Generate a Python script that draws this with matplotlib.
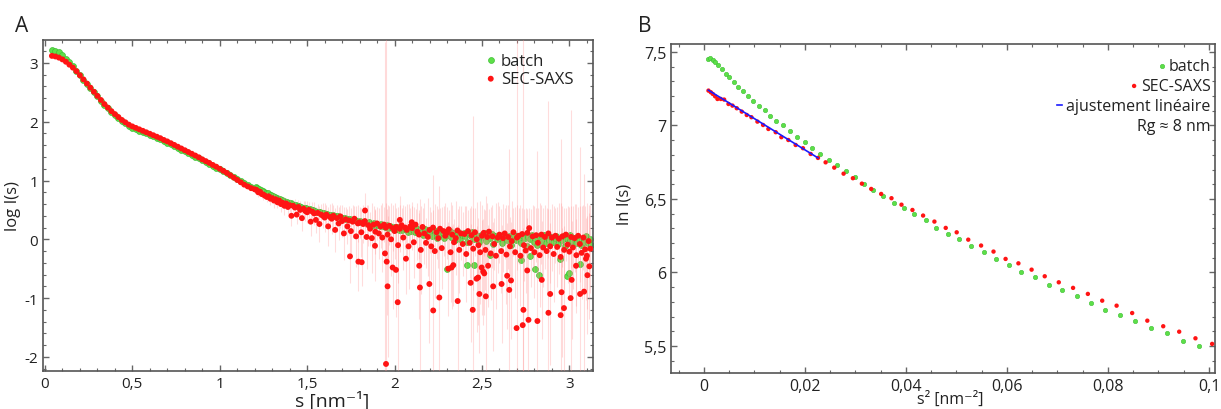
import numpy as np
import matplotlib
matplotlib.use('Agg')
import matplotlib.pyplot as plt
from matplotlib.ticker import MultipleLocator, FuncFormatter
from matplotlib.lines import Line2D

plt.rcParams['font.family'] = ['Open Sans', 'DejaVu Sans']

# ---------------- Panel A data : log I(s) vs s ----------------
s_smooth = np.arange(4, 120, 2) / 100.0          # 0.04 ... 1.18
batch_smooth = [3.22, 3.21, 3.18, 3.13, 3.07, 3.01, 2.94, 2.87, 2.79, 2.71,
                2.64, 2.57, 2.50, 2.43, 2.36, 2.29, 2.23, 2.17, 2.12, 2.07,
                2.02, 1.975, 1.935, 1.90, 1.875, 1.85, 1.825, 1.80, 1.775, 1.75,
                1.725, 1.70, 1.67, 1.645, 1.615, 1.585, 1.555, 1.525, 1.495, 1.465,
                1.435, 1.405, 1.375, 1.345, 1.315, 1.285, 1.25, 1.22, 1.19, 1.16,
                1.125, 1.09, 1.055, 1.02, 0.99, 0.955, 0.925, 0.895]
sec_smooth = [3.12, 3.11, 3.09, 3.06, 3.02, 2.97, 2.92, 2.86, 2.79, 2.72,
              2.65, 2.58, 2.51, 2.44, 2.37, 2.30, 2.24, 2.18, 2.13, 2.08,
              2.03, 1.99, 1.95, 1.92, 1.895, 1.87, 1.845, 1.82, 1.795, 1.77,
              1.745, 1.72, 1.69, 1.665, 1.635, 1.605, 1.575, 1.545, 1.515, 1.485,
              1.455, 1.425, 1.395, 1.36, 1.33, 1.30, 1.265, 1.235, 1.20, 1.165,
              1.13, 1.09, 1.05, 1.01, 0.97, 0.93, 0.90, 0.87]

s_noisy_sec = np.arange(120, 313) / 100.0            # 1.200 ... 3.120
s_noisy_batch = (np.arange(120, 313) + 0.5) / 100.0  # 1.205 ... 3.125
batch_noisy = [0.89, 0.87, 0.86, 0.84, 0.82, 0.81, 0.79, 0.78, 0.76, 0.75,
               0.73, 0.72, 0.71, 0.69, 0.68, 0.67, 0.66, 0.64, 0.63, 0.62,
               0.61, 0.60, 0.59, 0.58, 0.57, 0.56, 0.55, 0.54, 0.53, 0.53,
               0.52, 0.51, 0.50, 0.49, 0.48, 0.47, 0.47, 0.46, 0.45, 0.44,
               0.43, 0.43, 0.42, 0.41, 0.41, 0.40, 0.39, 0.39, 0.38, 0.37,
               0.36, 0.37, 0.35, 0.34, 0.35, 0.33, 0.32, 0.33, 0.31, 0.30,
               0.31, 0.29, 0.30, 0.28, 0.27, 0.29, 0.26, 0.25, 0.27, 0.24,
               0.25, 0.23, 0.26, 0.22, 0.21, 0.24, 0.20, 0.22, 0.19, 0.21,
               0.18, 0.21, 0.16, 0.19, 0.15, 0.20, 0.17, 0.13, 0.18, 0.14,
               0.16, 0.12, 0.19, 0.10, 0.15, 0.13, 0.08, 0.17, 0.11, 0.14,
               0.12, 0.06, 0.15, 0.10, 0.03, 0.13, 0.09, 0.11, 0.02, 0.12,
               0.08, 0.14, 0.04, 0.10, -0.02, 0.09, 0.12, 0.01, 0.07, 0.11,
               0.05, -0.04, 0.09, 0.06, 0.12, 0.00, 0.08, 0.03, -0.05, 0.07,
               0.04, 0.10, -0.03, 0.06, 0.02, 0.09, -0.08, 0.05, 0.01, 0.07,
               0.03, -0.06, 0.08, 0.02, -0.01, 0.06, -0.10, 0.04, 0.07, -0.02,
               0.05, 0.01, -0.07, 0.06, 0.03, -0.12, 0.04, 0.00, 0.08, -0.04,
               0.02, -0.09, 0.05, 0.01, -0.03, 0.07, -0.06, 0.03, -0.01, 0.04,
               -0.05, 0.02, 0.06, -0.08, 0.00, -0.02, 0.05, -0.11, 0.01, -0.04,
               0.07, -0.03, 0.02, -0.07, 0.04, -0.01, -0.10, 0.03, -0.05, 0.06,
               -0.06, 0.01, -0.09]
sec_noisy = [0.85, 0.84, 0.80, 0.81, 0.77, 0.76, 0.74, 0.72, 0.73, 0.69,
             0.70, 0.66, 0.68, 0.63, 0.66, 0.60, 0.62, 0.57, 0.61, 0.55,
             0.58, 0.40, 0.57, 0.54, 0.42, 0.55, 0.50, 0.36, 0.52, 0.48,
             0.46, 0.50, 0.30, 0.47, 0.44, 0.33, 0.45, 0.26, 0.42, 0.40,
             0.37, 0.42, 0.22, 0.38, 0.35, 0.40, 0.16, 0.36, 0.27, 0.39,
             0.31, 0.10, 0.34, 0.22, 0.32, 0.14, 0.30, 0.35, 0.05, 0.27,
             0.29, 0.12, 0.26, 0.31, 0.04, 0.24, 0.18, 0.02, 0.25, 0.13,
             0.27, 0.10, 0.22, 0.03, 0.25, 0.20, 0.08, 0.23, 0.00, 0.19,
             0.14, 0.21, -0.10, 0.18, 0.24, 0.03, 0.20, 0.16, -0.12, 0.22,
             0.19, -0.05, 0.25, 0.13, 0.08, -0.18, 0.21, 0.10, -0.06, 0.04,
             0.16, -0.12, 0.20, -0.20, 0.12, 0.02, 0.18, -0.15, 0.14, 0.06,
             0.11, 0.17, -0.22, 0.08, -0.05, 0.02, 0.15, -0.18, 0.10, -0.08,
             0.09, -0.25, 0.14, -0.06, 0.07, -0.16, 0.12, 0.00, -0.10, -0.22,
             0.06, 0.11, -0.18, 0.04, 0.13, -0.24, 0.05, -0.08, -0.28, 0.03,
             0.08, -0.20, 0.02, 0.10, -0.26, 0.04, -0.12, -0.03, 0.12, -0.22,
             0.03, 0.06, -0.28, 0.09, -0.10, -0.19, 0.11, 0.19, -0.15, 0.05,
             -0.22, 0.07, -0.06, -0.27, 0.08, -0.14, 0.04, -0.20, 0.10, -0.12,
             0.03, -0.25, 0.06, -0.13, 0.01, -0.30, 0.05, -0.18, 0.08, -0.09,
             -0.21, 0.04, -0.14, 0.02, -0.27, 0.06, -0.08, -0.23, 0.03, -0.17,
             -0.28, -0.03, -0.16]
sec_noisy_err = [0.06, 0.05, 0.08, 0.06, 0.07, 0.09, 0.06, 0.08, 0.07, 0.10,
                 0.08, 0.12, 0.07, 0.10, 0.09, 0.13, 0.08, 0.15, 0.10, 0.12,
                 0.11, 0.18, 0.10, 0.14, 0.16, 0.12, 0.15, 0.22, 0.13, 0.17,
                 0.19, 0.14, 0.25, 0.16, 0.20, 0.22, 0.15, 0.30, 0.18, 0.21,
                 0.24, 0.17, 0.33, 0.22, 0.26, 0.19, 0.38, 0.23, 0.28, 0.20,
                 0.27, 0.45, 0.21, 0.30, 0.25, 0.40, 0.28, 0.22, 0.52, 0.31,
                 0.26, 0.42, 0.33, 0.24, 0.55, 0.35, 0.29, 0.60, 0.31, 0.38,
                 0.28, 0.44, 0.36, 0.58, 0.30, 0.41, 0.50, 0.33, 0.62, 0.39,
                 0.47, 0.32, 0.65, 0.40, 0.29, 0.55, 0.36, 0.44, 0.72, 0.31,
                 0.38, 0.60, 0.27, 0.48, 0.41, 0.75, 0.33, 0.52, 0.43, 0.66,
                 0.39, 0.58, 0.30, 0.80, 0.45, 0.50, 0.35, 0.70, 0.42, 0.56,
                 0.44, 0.33, 0.85, 0.51, 0.40, 0.63, 0.37, 0.74, 0.46, 0.55,
                 0.48, 0.82, 0.36, 0.59, 0.50, 0.70, 0.41, 0.64, 0.47, 0.88,
                 0.52, 0.40, 0.68, 0.57, 0.38, 0.79, 0.53, 0.45, 0.90, 0.60,
                 0.49, 0.72, 0.58, 0.43, 0.84, 0.55, 0.50, 0.69, 0.41, 0.77,
                 0.56, 0.48, 0.86, 0.44, 0.61, 0.73, 0.40, 0.35, 0.66, 0.54,
                 0.78, 0.46, 0.59, 0.88, 0.50, 0.67, 0.55, 0.74, 0.42, 0.63,
                 0.57, 0.81, 0.47, 0.68, 0.60, 0.92, 0.52, 0.71, 0.45, 0.65,
                 0.76, 0.53, 0.70, 0.58, 0.87, 0.49, 0.64, 0.79, 0.56, 0.73,
                 0.90, 0.62, 0.75]

batch_out_s = [2.300, 2.413, 2.453, 2.544, 2.725, 2.774, 2.803, 2.825, 2.946, 2.984, 2.995, 3.058]
batch_out_y = [-0.50, -0.43, -0.44, -0.26, -0.36, -0.29, -0.50, -0.61, -0.34, -0.62, -0.58, -0.42]

sec_out_s = [1.745, 1.793, 1.812, 1.831, 1.888, 1.945, 1.955, 1.960, 1.951, 1.989,
             2.008, 2.018, 2.030, 2.065, 2.098, 2.141, 2.145, 2.199, 2.221, 2.256,
             2.307, 2.326, 2.336, 2.361, 2.435, 2.447, 2.469, 2.478, 2.485, 2.498,
             2.507, 2.513, 2.522, 2.535, 2.564, 2.612, 2.644, 2.656, 2.666, 2.698,
             2.733, 2.737, 2.766, 2.759, 2.817, 2.842, 2.890, 2.880, 2.950, 2.955,
             2.969, 3.013, 3.007, 3.038, 3.061, 3.084, 3.095, 3.103, 3.114]
sec_out_y = [-0.29, -0.38, -0.39, 0.49, -0.11, -0.24, -0.38, -0.80, -2.12, -0.48,
             -0.52, -1.07, 0.33, -0.33, 0.29, -0.45, -0.82, -0.76, -1.21, -0.99,
             -0.50, -0.48, -0.44, -1.05, -0.74, -1.20, -0.67, -0.65, -0.93, -0.48,
             -0.55, -0.58, -0.97, -0.45, -0.80, -0.76, -0.62, -0.86, -0.70, -1.51,
             -1.46, -1.20, -1.37, -0.53, -1.39, -0.69, -0.93, -1.25, -1.29, -0.90,
             -1.17, -0.69, -1.00, -0.45, -0.93, -0.89, -0.33, -0.61, -0.46]
sec_out_err = [0.45, 0.5, 0.4, 0.3, 0.6, 3.6, 0.9, 1.2, 5.6, 0.7,
               0.8, 1.3, 0.4, 0.6, 0.35, 0.9, 1.5, 1.0, 2.3, 1.9,
               0.8, 0.7, 0.7, 1.3, 1.0, 3.3, 0.9, 0.8, 1.0, 0.8,
               0.9, 0.7, 1.7, 0.7, 1.1, 1.0, 0.9, 2.4, 1.0, 5.0,
               5.0, 1.4, 1.5, 0.9, 2.9, 1.0, 1.2, 3.6, 3.0, 1.1,
               1.4, 1.0, 3.2, 0.8, 2.5, 2.0, 0.7, 1.0, 0.9]

# ---------------- Panel B data : Guinier plot ----------------
batch_s2 = [0.00073, 0.00125, 0.00184, 0.00224, 0.00283, 0.00356, 0.00441, 0.00507, 0.00593, 0.00678,
            0.00771, 0.00876, 0.00975, 0.01087, 0.01206, 0.01318, 0.01436, 0.01574, 0.01706, 0.01851,
            0.01996, 0.02148, 0.02306, 0.02477, 0.02642, 0.02806, 0.02991, 0.03169, 0.03346, 0.03551,
            0.03761, 0.03959, 0.0417, 0.04394, 0.04605, 0.04835, 0.05051, 0.05289, 0.05543, 0.05789,
            0.06035, 0.06288, 0.06558, 0.06826, 0.07096, 0.0738, 0.07664, 0.07949, 0.08249, 0.08541,
            0.08856, 0.09172, 0.09486, 0.0981]
batch_lnI = [7.452, 7.459, 7.448, 7.430, 7.414, 7.384, 7.350, 7.332, 7.298, 7.264,
             7.232, 7.203, 7.169, 7.135, 7.103, 7.067, 7.033, 7.003, 6.965, 6.924,
             6.886, 6.849, 6.806, 6.768, 6.734, 6.688, 6.647, 6.602, 6.563, 6.523,
             6.473, 6.439, 6.400, 6.357, 6.303, 6.264, 6.228, 6.183, 6.142, 6.094,
             6.053, 6.006, 5.972, 5.917, 5.883, 5.838, 5.790, 5.747, 5.713, 5.668,
             5.622, 5.588, 5.536, 5.502]
sec_s2 = [0.00092, 0.00138, 0.00178, 0.00224, 0.0027, 0.00336, 0.00402, 0.00488, 0.00567, 0.00652,
          0.00751, 0.0085, 0.00942, 0.01061, 0.01173, 0.01278, 0.01423, 0.01535, 0.01673, 0.01818,
          0.01963, 0.02115, 0.0226, 0.02411, 0.02582, 0.02767, 0.02951, 0.03129, 0.03314, 0.03511,
          0.03715, 0.03913, 0.0413, 0.04341, 0.04565, 0.04789, 0.05006, 0.05235, 0.05489, 0.05735,
          0.05974, 0.06228, 0.06489, 0.06749, 0.07027, 0.0731, 0.07603, 0.07887, 0.08172, 0.0848,
          0.0878, 0.09095, 0.09411, 0.09733, 0.10063]
sec_lnI = [7.237, 7.226, 7.214, 7.198, 7.180, 7.180, 7.176, 7.146, 7.135, 7.117,
           7.094, 7.071, 7.056, 7.026, 7.003, 6.976, 6.954, 6.920, 6.901, 6.867,
           6.845, 6.806, 6.779, 6.749, 6.713, 6.672, 6.641, 6.604, 6.568, 6.534,
           6.505, 6.461, 6.425, 6.387, 6.346, 6.303, 6.273, 6.223, 6.183, 6.142,
           6.092, 6.062, 6.019, 5.974, 5.933, 5.895, 5.854, 5.808, 5.774, 5.724,
           5.672, 5.634, 5.597, 5.552, 5.514]
fit_s2 = [0.0009, 0.0226]
fit_lnI = [7.240, 6.779]

# ---------------- styling ----------------
GREEN = '#5ddf48'
GREEN_EDGE = '#3fbf36'
RED = '#ff1414'
PINK = '#ff8c8c'
SPINE = '#555555'
TXT = '#222222'


def comma_fmt(x, pos):
    return f'{x:g}'.replace('.', ',')


def style_axes(ax, xmaj, xmin, ymaj, ymin):
    for sp in ax.spines.values():
        sp.set_color(SPINE)
        sp.set_linewidth(1.2)
    ax.xaxis.set_major_locator(MultipleLocator(xmaj))
    ax.xaxis.set_minor_locator(MultipleLocator(xmin))
    ax.yaxis.set_major_locator(MultipleLocator(ymaj))
    ax.yaxis.set_minor_locator(MultipleLocator(ymin))
    ax.xaxis.set_major_formatter(FuncFormatter(comma_fmt))
    ax.yaxis.set_major_formatter(FuncFormatter(comma_fmt))
    ax.tick_params(which='both', direction='in', top=True, right=True,
                   color='#666666', labelcolor=TXT)
    ax.tick_params(which='major', length=4.5, width=1.0)
    ax.tick_params(which='minor', length=2.5, width=0.8)


fig = plt.figure(figsize=(12.21, 4.10), dpi=100)
axA = fig.add_axes([43 / 1221, 1 - 372 / 410, 550 / 1221, 331 / 410])
axB = fig.add_axes([671 / 1221, 1 - 374 / 410, 544 / 1221, 329 / 410])

# ---- Panel A ----
bs = np.concatenate([s_smooth, s_noisy_batch, batch_out_s])
by = np.concatenate([batch_smooth, batch_noisy, batch_out_y])
rs = np.concatenate([s_smooth, s_noisy_sec, sec_out_s])
ry = np.concatenate([sec_smooth, sec_noisy, sec_out_y])

axA.scatter(bs, by, s=18, c=GREEN, edgecolors=GREEN_EDGE, linewidths=0.5,
            zorder=2, label='batch')
axA.errorbar(np.concatenate([s_noisy_sec, sec_out_s]),
             np.concatenate([sec_noisy, sec_out_y]),
             yerr=np.concatenate([sec_noisy_err, sec_out_err]),
             fmt='none', ecolor=PINK, elinewidth=0.8, alpha=0.3, zorder=3)
axA.scatter(rs, ry, s=18, c=RED, edgecolors='none', zorder=4, label='SEC-SAXS')

axA.set_xlim(-0.011, 3.135)
axA.set_ylim(-2.24, 3.39)
style_axes(axA, 0.5, 0.1, 1, 0.2)
axA.tick_params(which='major', labelsize=11)
axA.set_xlabel('s [nm⁻¹]', fontsize=14, color=TXT)
axA.xaxis.set_label_coords(0.525, -0.058)
axA.set_ylabel('log I(s)', fontsize=12, color=TXT)
axA.yaxis.set_label_coords(-0.04, 0.5)

legA = axA.legend(loc='upper left', bbox_to_anchor=(0.805, 0.962), frameon=False,
                  fontsize=12, scatterpoints=1, handlelength=0.6, handletextpad=0.3,
                  labelspacing=0.15, borderpad=0, borderaxespad=0)
for t in legA.get_texts():
    t.set_color(TXT)

# ---- Panel B ----
axB.scatter(batch_s2, batch_lnI, s=10, c=GREEN, edgecolors=GREEN_EDGE, linewidths=0.4,
            zorder=2, label='batch')
axB.scatter(sec_s2, sec_lnI, s=10, c=RED, edgecolors='none', zorder=3, label='SEC-SAXS')
axB.plot(fit_s2, fit_lnI, color='#1a1aff', lw=1.2, zorder=4, label='ajustement linéaire')
rg_handle = Line2D([], [], linestyle='none', marker=None, label='Rg ≈ 8 nm')

axB.set_xlim(-0.0065, 0.1012)
axB.set_ylim(5.316, 7.554)
style_axes(axB, 0.02, 0.005, 0.5, 0.1)
axB.tick_params(which='major', labelsize=11.5)
axB.set_xlabel('s² [nm⁻²]', fontsize=11.5, color=TXT)
axB.xaxis.set_label_coords(0.513, -0.055)
axB.set_ylabel('ln I(s)', fontsize=12, color=TXT)
axB.yaxis.set_label_coords(-0.07, 0.514)

hB, lB = axB.get_legend_handles_labels()
hB.append(rg_handle)
lB.append('Rg ≈ 8 nm')
legB = axB.legend(hB, lB, loc='upper right', bbox_to_anchor=(0.992, 0.957), frameon=False,
                  fontsize=11.5, scatterpoints=1, handlelength=0.35, handletextpad=0.25,
                  labelspacing=0.25, borderpad=0, borderaxespad=0)
for t in legB.get_texts():
    t.set_color(TXT)
try:
    for col in legB._legend_handle_box.get_children():
        col.align = 'right'
except Exception:
    pass

# panel letters
fig.text(15 / 1221, 1 - 26 / 410, 'A', fontsize=15, color=TXT, va='center', ha='left')
fig.text(638 / 1221, 1 - 26 / 410, 'B', fontsize=15, color=TXT, va='center', ha='left')

fig.savefig('out.png', dpi=100)
